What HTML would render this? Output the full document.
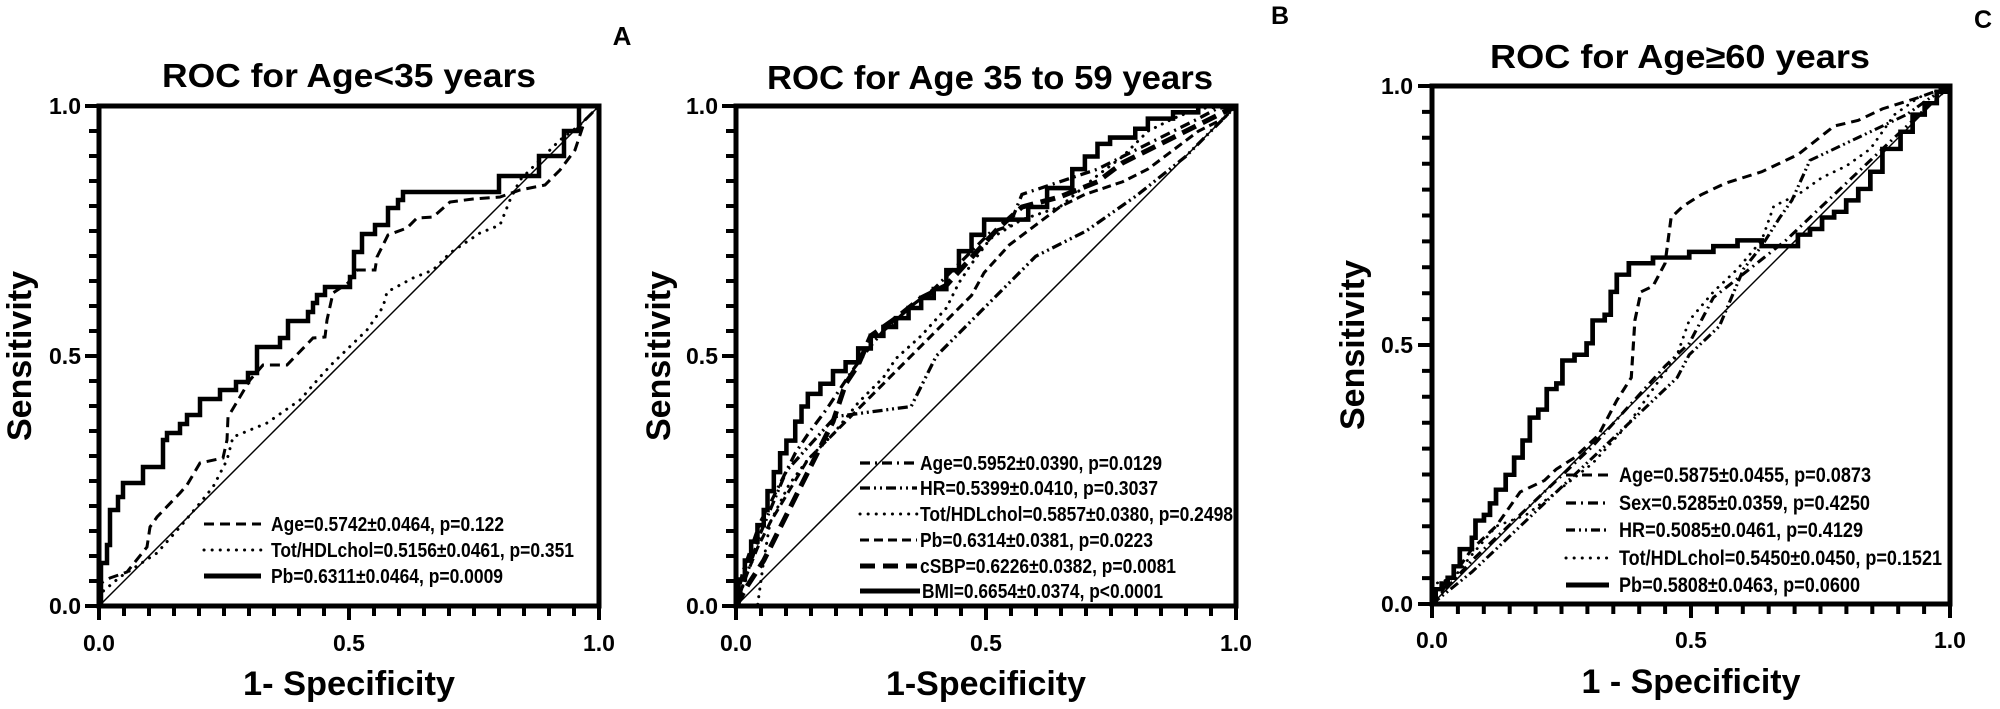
<!DOCTYPE html>
<html><head><meta charset="utf-8"><style>
html,body{margin:0;padding:0;background:#fff;}
svg{display:block;}
text{font-family:"Liberation Sans",Arial,sans-serif;font-weight:bold;fill:#000;}
</style></head><body>
<svg width="2000" height="709" viewBox="0 0 2000 709" xmlns="http://www.w3.org/2000/svg">
<rect width="2000" height="709" fill="#fff"/>

<!-- ================= PANEL A ================= -->
<text x="349" y="87" font-size="33" text-anchor="middle" textLength="374" lengthAdjust="spacingAndGlyphs">ROC for Age&lt;35 years</text>
<text x="622" y="45" font-size="26" text-anchor="middle">A</text>
<line x1="99" y1="606" x2="599" y2="106" stroke="#000" stroke-width="1.5"/>
<path fill="none" stroke="#000" stroke-width="4.5" d="M101,606 L101,563 L107,563 L107,545 L110,545 L110,510 L118,510 L118,497 L123,497 L123,483 L143,483 L143,467 L163,467 L163,440 L167,440 L167,433 L180,433 L180,424 L187,424 L187,415 L200,415 L200,399 L220,399 L220,390 L236,390 L236,382 L248,382 L248,373 L257,373 L257,347 L280,347 L280,338 L288,338 L288,321 L308,321 L308,312 L313,312 L313,303 L317,303 L317,295 L325,295 L325,287 L350,287 L350,277 L354,277 L354,252 L362,252 L362,234 L375,234 L375,225 L388,225 L388,208 L398,208 L398,200 L403,200 L403,192 L499,192 L499,176 L539,176 L539,156 L564,156 L564,131 L579,131 L579,106 L599,106"/>
<path fill="none" stroke="#000" stroke-width="3" stroke-dasharray="10 6" d="M101,606 L101,583 L110,578 L127,572 L147,547 L150,527 L157,517 L180,493 L187,485 L200,463 L223,458 L227,440 L228,417 L250,380 L263,365 L287,365 L313,338 L325,337 L327,320 L333,293 L348,283 L357,270 L375,270 L377,257 L388,235 L407,228 L417,218 L433,217 L450,202 L473,199 L500,197 L520,190 L545,185 L560,170 L575,150 L585,120 L599,106"/>
<path fill="none" stroke="#000" stroke-width="3" stroke-linecap="round" stroke-dasharray="0.1 8" d="M101,606 L101,593 L120,577 L157,553 L180,527 L200,503 L213,487 L227,460 L233,437 L267,423 L300,400 L320,377 L333,363 L367,330 L383,307 L387,292 L413,278 L433,270 L450,253 L480,233 L500,225 L510,200 L520,180 L540,160 L560,140 L580,125 L599,106"/>
<line x1="204" y1="524" x2="261" y2="524" stroke="#000" stroke-width="3" stroke-dasharray="10 6"/>
<line x1="204" y1="550" x2="261" y2="550" stroke="#000" stroke-width="3" stroke-linecap="round" stroke-dasharray="0.1 8"/>
<line x1="204" y1="576" x2="261" y2="576" stroke="#000" stroke-width="5"/>
<text x="271" y="531" font-size="20" textLength="233" lengthAdjust="spacingAndGlyphs">Age=0.5742±0.0464, p=0.122</text>
<text x="271" y="557" font-size="20" textLength="303" lengthAdjust="spacingAndGlyphs">Tot/HDLchol=0.5156±0.0461, p=0.351</text>
<text x="271" y="583" font-size="20" textLength="232" lengthAdjust="spacingAndGlyphs">Pb=0.6311±0.0464, p=0.0009</text>
<rect x="99" y="106" width="500" height="500" fill="none" stroke="#000" stroke-width="5"/>
<line x1="93" y1="608" x2="93" y2="104" stroke="#000" stroke-width="8" stroke-dasharray="4 21"/>
<line x1="97" y1="612" x2="601" y2="612" stroke="#000" stroke-width="8" stroke-dasharray="4 21"/>
<rect x="85" y="604" width="14" height="4"/><rect x="85" y="354" width="14" height="4"/><rect x="85" y="104" width="14" height="4"/>
<rect x="97" y="606" width="4" height="14"/><rect x="347" y="606" width="4" height="14"/><rect x="597" y="606" width="4" height="14"/>
<text x="81" y="614" font-size="23" text-anchor="end">0.0</text>
<text x="81" y="364" font-size="23" text-anchor="end">0.5</text>
<text x="81" y="114" font-size="23" text-anchor="end">1.0</text>
<text x="99" y="651" font-size="23" text-anchor="middle">0.0</text>
<text x="349" y="651" font-size="23" text-anchor="middle">0.5</text>
<text x="599" y="651" font-size="23" text-anchor="middle">1.0</text>
<text x="349" y="695" font-size="34" text-anchor="middle" textLength="212" lengthAdjust="spacingAndGlyphs">1- Specificity</text>
<text transform="translate(31,356) rotate(-90)" font-size="34" text-anchor="middle" textLength="170" lengthAdjust="spacingAndGlyphs">Sensitivity</text>

<!-- ================= PANEL B ================= -->
<text x="990" y="89" font-size="33" text-anchor="middle" textLength="446" lengthAdjust="spacingAndGlyphs">ROC for Age 35 to 59 years</text>
<text x="1280" y="24" font-size="25" text-anchor="middle">B</text>
<line x1="736" y1="606" x2="1236" y2="106" stroke="#000" stroke-width="1.5"/>
<g transform="matrix(1.2594,0,0,1.2626,14.4,5.0)" fill="none" stroke="#000">
<path stroke-width="3.6" d="M573,476 L575,476 L575,455 L580,455 L580,440 L585,440 L585,425 L590,425 L590,412 L595,412 L595,400 L598,400 L598,385 L603,385 L603,370 L608,370 L608,355 L613,355 L613,345 L620,345 L620,330 L625,330 L625,318 L630,318 L630,308 L640,308 L640,300 L650,300 L650,290 L660,290 L660,283 L670,283 L670,272 L680,272 L680,262 L690,262 L690,255 L700,255 L700,248 L710,248 L710,240 L720,240 L720,232 L730,232 L730,225 L740,225 L740,210 L750,210 L750,195 L760,195 L760,182 L770,182 L770,170 L805,170 L805,160 L820,160 L820,145 L840,145 L840,130 L850,130 L850,120 L860,120 L860,110 L870,110 L870,105 L890,105 L890,98 L900,98 L900,90 L920,90 L920,85 L940,85 L940,80 L970,80"/>
<path stroke-width="2.6" stroke-dasharray="8 4 1.6 4" d="M573,476 L578,450 L585,430 L592,410 L600,395 L610,375 L620,355 L630,340 L645,320 L655,305 L665,290 L680,270 L690,258 L700,250 L710,240 L730,225 L750,205 L760,195 L775,180 L790,175 L800,150 L830,140 L860,130 L880,120 L900,110 L920,100 L940,90 L955,82 L970,80"/>
<path stroke-width="2.6" stroke-dasharray="8 3 1.6 3 1.6 3" d="M573,476 L593,417 L613,369 L652,326 L712,318 L732,278 L752,258 L772,238 L811,199 L851,179 L891,151 L930,120 L970,80"/>
<path stroke-width="2.4" stroke-linecap="round" stroke-dasharray="0.1 6" d="M573,476 L590,476 L595,440 L600,410 L615,380 L630,360 L650,340 L670,315 L690,295 L700,280 L720,262 L740,240 L750,220 L760,205 L775,185 L800,170 L830,160 L860,135 L880,120 L900,100 L920,90 L940,82 L970,80"/>
<path stroke-width="2.4" stroke-dasharray="7 4" d="M573,476 L580,455 L590,430 L600,410 L615,385 L630,360 L645,345 L660,330 L680,310 L700,290 L720,270 L740,250 L760,230 L770,212 L790,190 L810,175 L830,160 L850,150 L880,140 L900,130 L920,115 L940,100 L960,90 L970,80"/>
<path stroke-width="4" stroke-dasharray="12 6" d="M573,476 L582,460 L595,440 L605,420 L615,400 L625,380 L635,360 L650,330 L660,300 L670,285 L680,262 L700,248 L720,232 L740,222 L760,200 L780,178 L800,160 L830,152 L860,140 L880,125 L900,115 L920,105 L940,95 L960,85 L970,80"/>
</g>
<line x1="860" y1="463" x2="917" y2="463" stroke="#000" stroke-width="3.2" stroke-dasharray="10 5 2 5"/>
<line x1="860" y1="488" x2="917" y2="488" stroke="#000" stroke-width="3.2" stroke-dasharray="10 4 2 4 2 4"/>
<line x1="860" y1="514" x2="917" y2="514" stroke="#000" stroke-width="3" stroke-linecap="round" stroke-dasharray="0.1 8"/>
<line x1="860" y1="540" x2="917" y2="540" stroke="#000" stroke-width="3" stroke-dasharray="9 5"/>
<line x1="860" y1="566" x2="917" y2="566" stroke="#000" stroke-width="5" stroke-dasharray="15 8"/>
<line x1="860" y1="591" x2="920" y2="591" stroke="#000" stroke-width="5"/>
<text x="920" y="470" font-size="20" textLength="242" lengthAdjust="spacingAndGlyphs">Age=0.5952±0.0390, p=0.0129</text>
<text x="920" y="495" font-size="20" textLength="238" lengthAdjust="spacingAndGlyphs">HR=0.5399±0.0410, p=0.3037</text>
<text x="920" y="521" font-size="20" textLength="313" lengthAdjust="spacingAndGlyphs">Tot/HDLchol=0.5857±0.0380, p=0.2498</text>
<text x="920" y="547" font-size="20" textLength="233" lengthAdjust="spacingAndGlyphs">Pb=0.6314±0.0381, p=0.0223</text>
<text x="920" y="573" font-size="20" textLength="256" lengthAdjust="spacingAndGlyphs">cSBP=0.6226±0.0382, p=0.0081</text>
<text x="922" y="598" font-size="20" textLength="241" lengthAdjust="spacingAndGlyphs">BMI=0.6654±0.0374, p&lt;0.0001</text>
<rect x="736" y="106" width="500" height="500" fill="none" stroke="#000" stroke-width="5"/>
<line x1="730" y1="608" x2="730" y2="104" stroke="#000" stroke-width="8" stroke-dasharray="4 21"/>
<line x1="734" y1="612" x2="1238" y2="612" stroke="#000" stroke-width="8" stroke-dasharray="4 21"/>
<rect x="722" y="604" width="14" height="4"/><rect x="722" y="354" width="14" height="4"/><rect x="722" y="104" width="14" height="4"/>
<rect x="734" y="606" width="4" height="14"/><rect x="984" y="606" width="4" height="14"/><rect x="1234" y="606" width="4" height="14"/>
<text x="718" y="614" font-size="23" text-anchor="end">0.0</text>
<text x="718" y="364" font-size="23" text-anchor="end">0.5</text>
<text x="718" y="114" font-size="23" text-anchor="end">1.0</text>
<text x="736" y="651" font-size="23" text-anchor="middle">0.0</text>
<text x="986" y="651" font-size="23" text-anchor="middle">0.5</text>
<text x="1236" y="651" font-size="23" text-anchor="middle">1.0</text>
<text x="986" y="695" font-size="34" text-anchor="middle" textLength="200" lengthAdjust="spacingAndGlyphs">1-Specificity</text>
<text transform="translate(670,356) rotate(-90)" font-size="34" text-anchor="middle" textLength="170" lengthAdjust="spacingAndGlyphs">Sensitivity</text>

<!-- ================= PANEL C ================= -->
<text x="1490" y="68" font-size="33" textLength="380" lengthAdjust="spacingAndGlyphs">ROC for Age≥60 years</text>
<text x="1983" y="28" font-size="25" text-anchor="middle">C</text>
<line x1="1432" y1="604" x2="1950" y2="86" stroke="#000" stroke-width="1.5"/>
<g transform="matrix(1.2075,0,0,1.1435,107.4,11.7)" fill="none" stroke="#000">
<path stroke-width="3.9" d="M1097,518 L1100,518 L1100,505 L1105,505 L1105,500 L1110,500 L1110,495 L1115,495 L1115,485 L1120,485 L1120,470 L1130,470 L1130,460 L1133,460 L1133,445 L1140,445 L1140,440 L1145,440 L1145,430 L1150,430 L1150,418 L1158,418 L1158,405 L1165,405 L1165,390 L1172,390 L1172,375 L1178,375 L1178,355 L1185,355 L1185,348 L1192,348 L1192,330 L1200,330 L1200,325 L1205,325 L1205,305 L1215,305 L1215,300 L1225,300 L1225,290 L1230,290 L1230,270 L1240,270 L1240,265 L1245,265 L1245,245 L1250,245 L1250,230 L1260,230 L1260,220 L1280,220 L1280,215 L1310,215 L1310,210 L1330,210 L1330,205 L1350,205 L1350,200 L1370,200 L1370,205 L1400,205 L1400,195 L1410,195 L1410,190 L1420,190 L1420,180 L1430,180 L1430,175 L1440,175 L1440,165 L1450,165 L1450,155 L1460,155 L1460,140 L1470,140 L1470,120 L1485,120 L1485,105 L1495,105 L1495,90 L1505,90 L1505,80 L1515,80 L1515,70 L1526,70 L1526,65"/>
<path stroke-width="2.6" stroke-dasharray="8 5" d="M1097,518 L1110,500 L1130,470 L1150,450 L1170,420 L1190,410 L1200,400 L1215,390 L1225,380 L1235,370 L1240,360 L1250,340 L1262,320 L1265,270 L1270,245 L1280,240 L1290,220 L1295,180 L1305,170 L1320,160 L1340,150 L1370,140 L1400,125 L1430,100 L1450,95 L1470,85 L1500,75 L1526,65"/>
<path stroke-width="2.6" stroke-dasharray="8 4 1.6 4" d="M1097,518 L1130,480 L1170,440 L1200,410 L1230,380 L1260,345 L1290,310 L1310,290 L1330,250 L1360,225 L1390,200 L1420,170 L1450,140 L1480,110 L1526,65"/>
<path stroke-width="2.6" stroke-dasharray="8 3 1.6 3 1.6 3" d="M1097,518 L1130,490 L1160,460 L1190,430 L1220,400 L1240,380 L1260,360 L1280,340 L1300,320 L1310,300 L1320,290 L1335,275 L1345,250 L1355,225 L1370,205 L1385,180 L1395,165 L1410,130 L1430,120 L1450,110 L1470,100 L1490,90 L1510,75 L1526,65"/>
<path stroke-width="2.4" stroke-linecap="round" stroke-dasharray="0.1 6.5" d="M1097,518 L1100,500 L1115,495 L1130,475 L1150,450 L1175,440 L1200,420 L1230,395 L1260,360 L1280,330 L1300,300 L1310,270 L1330,245 L1350,225 L1370,200 L1380,170 L1400,160 L1420,145 L1440,135 L1460,120 L1480,90 L1500,75 L1526,65"/>
</g>
<line x1="1566" y1="475" x2="1609" y2="475" stroke="#000" stroke-width="3" stroke-dasharray="10 6"/>
<line x1="1566" y1="503" x2="1609" y2="503" stroke="#000" stroke-width="3.2" stroke-dasharray="10 5 2 5"/>
<line x1="1566" y1="530" x2="1609" y2="530" stroke="#000" stroke-width="3.2" stroke-dasharray="9 4 2 4 2 4"/>
<line x1="1566" y1="558" x2="1609" y2="558" stroke="#000" stroke-width="3" stroke-linecap="round" stroke-dasharray="0.1 8"/>
<line x1="1566" y1="585" x2="1609" y2="585" stroke="#000" stroke-width="5"/>
<text x="1619" y="482" font-size="21" textLength="252" lengthAdjust="spacingAndGlyphs">Age=0.5875±0.0455, p=0.0873</text>
<text x="1619" y="510" font-size="21" textLength="251" lengthAdjust="spacingAndGlyphs">Sex=0.5285±0.0359, p=0.4250</text>
<text x="1619" y="537" font-size="21" textLength="244" lengthAdjust="spacingAndGlyphs">HR=0.5085±0.0461, p=0.4129</text>
<text x="1619" y="565" font-size="21" textLength="323" lengthAdjust="spacingAndGlyphs">Tot/HDLchol=0.5450±0.0450, p=0.1521</text>
<text x="1619" y="592" font-size="21" textLength="241" lengthAdjust="spacingAndGlyphs">Pb=0.5808±0.0463, p=0.0600</text>
<rect x="1432" y="86" width="518" height="518" fill="none" stroke="#000" stroke-width="5"/>
<line x1="1426" y1="606" x2="1426" y2="84" stroke="#000" stroke-width="8" stroke-dasharray="4 21.9"/>
<line x1="1430" y1="610" x2="1952" y2="610" stroke="#000" stroke-width="8" stroke-dasharray="4 21.9"/>
<rect x="1418" y="602" width="14" height="4"/><rect x="1418" y="343" width="14" height="4"/><rect x="1418" y="84" width="14" height="4"/>
<rect x="1430" y="604" width="4" height="14"/><rect x="1689" y="604" width="4" height="14"/><rect x="1948" y="604" width="4" height="14"/>
<text x="1413" y="612" font-size="23" text-anchor="end">0.0</text>
<text x="1413" y="353" font-size="23" text-anchor="end">0.5</text>
<text x="1413" y="94" font-size="23" text-anchor="end">1.0</text>
<text x="1432" y="648" font-size="23" text-anchor="middle">0.0</text>
<text x="1691" y="648" font-size="23" text-anchor="middle">0.5</text>
<text x="1950" y="648" font-size="23" text-anchor="middle">1.0</text>
<text x="1691" y="693" font-size="34" text-anchor="middle" textLength="219" lengthAdjust="spacingAndGlyphs">1 - Specificity</text>
<text transform="translate(1364,345) rotate(-90)" font-size="34" text-anchor="middle" textLength="170" lengthAdjust="spacingAndGlyphs">Sensitivity</text>
</svg>
</body></html>
